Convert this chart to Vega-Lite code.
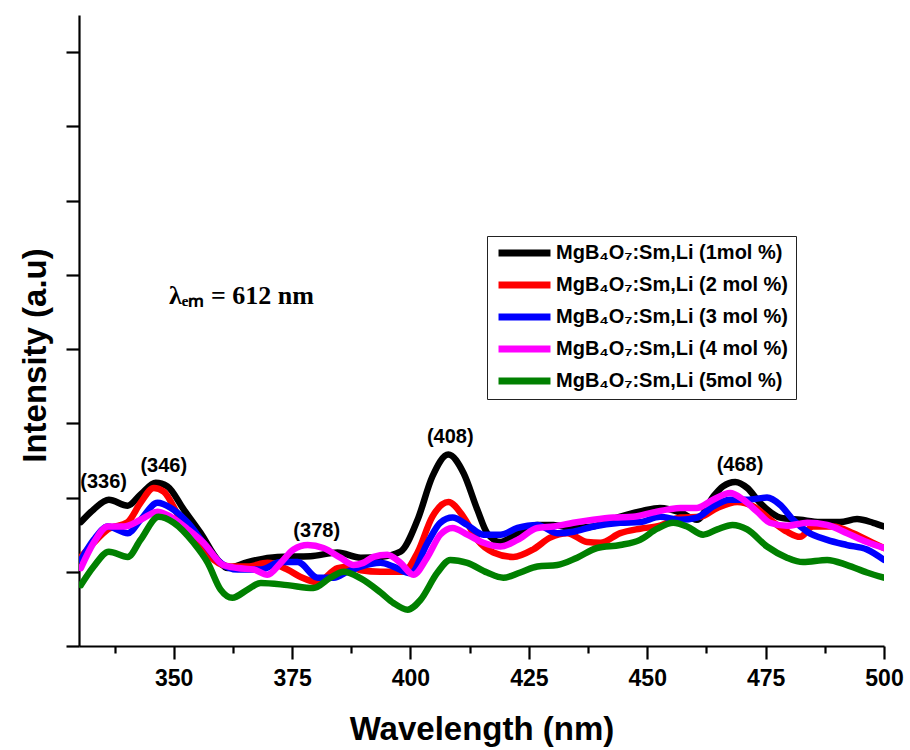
{
  "$schema": "https://vega.github.io/schema/vega-lite/v6.json",
  "width": 805,
  "height": 631,
  "autosize": {"type": "none"},
  "padding": {"left": 79, "top": 15, "right": 26, "bottom": 104},
  "background": "white",
  "config": {
    "view": {"stroke": null},
    "font": "Liberation Sans"
  },
  "datasets": {
    "spectra": [
      {"series": "MgB₄O₇:Sm,Li (1mol %)", "wl": 330.4, "I": 1.67},
      {"series": "MgB₄O₇:Sm,Li (1mol %)", "wl": 333.1, "I": 1.84},
      {"series": "MgB₄O₇:Sm,Li (1mol %)", "wl": 336.3, "I": 1.97},
      {"series": "MgB₄O₇:Sm,Li (1mol %)", "wl": 340.3, "I": 1.89},
      {"series": "MgB₄O₇:Sm,Li (1mol %)", "wl": 343.0, "I": 2.04},
      {"series": "MgB₄O₇:Sm,Li (1mol %)", "wl": 346.2, "I": 2.20},
      {"series": "MgB₄O₇:Sm,Li (1mol %)", "wl": 348.7, "I": 2.15},
      {"series": "MgB₄O₇:Sm,Li (1mol %)", "wl": 352.1, "I": 1.84},
      {"series": "MgB₄O₇:Sm,Li (1mol %)", "wl": 355.7, "I": 1.52},
      {"series": "MgB₄O₇:Sm,Li (1mol %)", "wl": 359.3, "I": 1.16},
      {"series": "MgB₄O₇:Sm,Li (1mol %)", "wl": 361.4, "I": 1.05},
      {"series": "MgB₄O₇:Sm,Li (1mol %)", "wl": 365.6, "I": 1.13},
      {"series": "MgB₄O₇:Sm,Li (1mol %)", "wl": 371.9, "I": 1.20},
      {"series": "MgB₄O₇:Sm,Li (1mol %)", "wl": 378.9, "I": 1.21},
      {"series": "MgB₄O₇:Sm,Li (1mol %)", "wl": 384.6, "I": 1.26},
      {"series": "MgB₄O₇:Sm,Li (1mol %)", "wl": 389.5, "I": 1.19},
      {"series": "MgB₄O₇:Sm,Li (1mol %)", "wl": 393.7, "I": 1.20},
      {"series": "MgB₄O₇:Sm,Li (1mol %)", "wl": 397.9, "I": 1.27},
      {"series": "MgB₄O₇:Sm,Li (1mol %)", "wl": 401.5, "I": 1.70},
      {"series": "MgB₄O₇:Sm,Li (1mol %)", "wl": 404.6, "I": 2.28},
      {"series": "MgB₄O₇:Sm,Li (1mol %)", "wl": 408.0, "I": 2.58},
      {"series": "MgB₄O₇:Sm,Li (1mol %)", "wl": 411.2, "I": 2.33},
      {"series": "MgB₄O₇:Sm,Li (1mol %)", "wl": 414.1, "I": 1.84},
      {"series": "MgB₄O₇:Sm,Li (1mol %)", "wl": 416.2, "I": 1.52},
      {"series": "MgB₄O₇:Sm,Li (1mol %)", "wl": 419.0, "I": 1.40},
      {"series": "MgB₄O₇:Sm,Li (1mol %)", "wl": 422.6, "I": 1.52},
      {"series": "MgB₄O₇:Sm,Li (1mol %)", "wl": 426.8, "I": 1.63},
      {"series": "MgB₄O₇:Sm,Li (1mol %)", "wl": 430.2, "I": 1.63},
      {"series": "MgB₄O₇:Sm,Li (1mol %)", "wl": 434.4, "I": 1.59},
      {"series": "MgB₄O₇:Sm,Li (1mol %)", "wl": 438.6, "I": 1.61},
      {"series": "MgB₄O₇:Sm,Li (1mol %)", "wl": 442.2, "I": 1.70},
      {"series": "MgB₄O₇:Sm,Li (1mol %)", "wl": 445.8, "I": 1.77},
      {"series": "MgB₄O₇:Sm,Li (1mol %)", "wl": 449.0, "I": 1.82},
      {"series": "MgB₄O₇:Sm,Li (1mol %)", "wl": 452.7, "I": 1.86},
      {"series": "MgB₄O₇:Sm,Li (1mol %)", "wl": 457.0, "I": 1.80},
      {"series": "MgB₄O₇:Sm,Li (1mol %)", "wl": 460.5, "I": 1.70},
      {"series": "MgB₄O₇:Sm,Li (1mol %)", "wl": 463.9, "I": 2.01},
      {"series": "MgB₄O₇:Sm,Li (1mol %)", "wl": 466.0, "I": 2.15},
      {"series": "MgB₄O₇:Sm,Li (1mol %)", "wl": 468.6, "I": 2.21},
      {"series": "MgB₄O₇:Sm,Li (1mol %)", "wl": 471.1, "I": 2.13},
      {"series": "MgB₄O₇:Sm,Li (1mol %)", "wl": 473.8, "I": 1.93},
      {"series": "MgB₄O₇:Sm,Li (1mol %)", "wl": 478.1, "I": 1.73},
      {"series": "MgB₄O₇:Sm,Li (1mol %)", "wl": 482.3, "I": 1.70},
      {"series": "MgB₄O₇:Sm,Li (1mol %)", "wl": 486.5, "I": 1.67},
      {"series": "MgB₄O₇:Sm,Li (1mol %)", "wl": 490.7, "I": 1.67},
      {"series": "MgB₄O₇:Sm,Li (1mol %)", "wl": 494.3, "I": 1.71},
      {"series": "MgB₄O₇:Sm,Li (1mol %)", "wl": 497.7, "I": 1.66},
      {"series": "MgB₄O₇:Sm,Li (1mol %)", "wl": 500.0, "I": 1.61},

      {"series": "MgB₄O₇:Sm,Li (2 mol %)", "wl": 330.4, "I": 1.20},
      {"series": "MgB₄O₇:Sm,Li (2 mol %)", "wl": 333.1, "I": 1.39},
      {"series": "MgB₄O₇:Sm,Li (2 mol %)", "wl": 336.1, "I": 1.57},
      {"series": "MgB₄O₇:Sm,Li (2 mol %)", "wl": 340.3, "I": 1.67},
      {"series": "MgB₄O₇:Sm,Li (2 mol %)", "wl": 343.0, "I": 1.93},
      {"series": "MgB₄O₇:Sm,Li (2 mol %)", "wl": 345.8, "I": 2.13},
      {"series": "MgB₄O₇:Sm,Li (2 mol %)", "wl": 347.9, "I": 2.08},
      {"series": "MgB₄O₇:Sm,Li (2 mol %)", "wl": 351.5, "I": 1.70},
      {"series": "MgB₄O₇:Sm,Li (2 mol %)", "wl": 355.0, "I": 1.43},
      {"series": "MgB₄O₇:Sm,Li (2 mol %)", "wl": 358.5, "I": 1.16},
      {"series": "MgB₄O₇:Sm,Li (2 mol %)", "wl": 362.0, "I": 1.07},
      {"series": "MgB₄O₇:Sm,Li (2 mol %)", "wl": 365.6, "I": 1.07},
      {"series": "MgB₄O₇:Sm,Li (2 mol %)", "wl": 369.8, "I": 1.12},
      {"series": "MgB₄O₇:Sm,Li (2 mol %)", "wl": 374.0, "I": 1.03},
      {"series": "MgB₄O₇:Sm,Li (2 mol %)", "wl": 376.8, "I": 0.93},
      {"series": "MgB₄O₇:Sm,Li (2 mol %)", "wl": 380.4, "I": 0.86},
      {"series": "MgB₄O₇:Sm,Li (2 mol %)", "wl": 384.6, "I": 1.05},
      {"series": "MgB₄O₇:Sm,Li (2 mol %)", "wl": 387.3, "I": 1.07},
      {"series": "MgB₄O₇:Sm,Li (2 mol %)", "wl": 389.5, "I": 1.02},
      {"series": "MgB₄O₇:Sm,Li (2 mol %)", "wl": 393.7, "I": 1.00},
      {"series": "MgB₄O₇:Sm,Li (2 mol %)", "wl": 398.5, "I": 1.00},
      {"series": "MgB₄O₇:Sm,Li (2 mol %)", "wl": 401.5, "I": 1.26},
      {"series": "MgB₄O₇:Sm,Li (2 mol %)", "wl": 404.6, "I": 1.74},
      {"series": "MgB₄O₇:Sm,Li (2 mol %)", "wl": 408.0, "I": 1.94},
      {"series": "MgB₄O₇:Sm,Li (2 mol %)", "wl": 411.2, "I": 1.74},
      {"series": "MgB₄O₇:Sm,Li (2 mol %)", "wl": 414.1, "I": 1.43},
      {"series": "MgB₄O₇:Sm,Li (2 mol %)", "wl": 417.5, "I": 1.26},
      {"series": "MgB₄O₇:Sm,Li (2 mol %)", "wl": 421.7, "I": 1.20},
      {"series": "MgB₄O₇:Sm,Li (2 mol %)", "wl": 425.9, "I": 1.30},
      {"series": "MgB₄O₇:Sm,Li (2 mol %)", "wl": 429.5, "I": 1.46},
      {"series": "MgB₄O₇:Sm,Li (2 mol %)", "wl": 433.1, "I": 1.52},
      {"series": "MgB₄O₇:Sm,Li (2 mol %)", "wl": 437.3, "I": 1.40},
      {"series": "MgB₄O₇:Sm,Li (2 mol %)", "wl": 440.1, "I": 1.39},
      {"series": "MgB₄O₇:Sm,Li (2 mol %)", "wl": 444.3, "I": 1.52},
      {"series": "MgB₄O₇:Sm,Li (2 mol %)", "wl": 448.5, "I": 1.58},
      {"series": "MgB₄O₇:Sm,Li (2 mol %)", "wl": 452.7, "I": 1.62},
      {"series": "MgB₄O₇:Sm,Li (2 mol %)", "wl": 457.0, "I": 1.73},
      {"series": "MgB₄O₇:Sm,Li (2 mol %)", "wl": 461.2, "I": 1.74},
      {"series": "MgB₄O₇:Sm,Li (2 mol %)", "wl": 464.8, "I": 1.86},
      {"series": "MgB₄O₇:Sm,Li (2 mol %)", "wl": 469.0, "I": 1.94},
      {"series": "MgB₄O₇:Sm,Li (2 mol %)", "wl": 472.4, "I": 1.88},
      {"series": "MgB₄O₇:Sm,Li (2 mol %)", "wl": 476.6, "I": 1.67},
      {"series": "MgB₄O₇:Sm,Li (2 mol %)", "wl": 479.5, "I": 1.54},
      {"series": "MgB₄O₇:Sm,Li (2 mol %)", "wl": 482.3, "I": 1.47},
      {"series": "MgB₄O₇:Sm,Li (2 mol %)", "wl": 485.0, "I": 1.61},
      {"series": "MgB₄O₇:Sm,Li (2 mol %)", "wl": 489.2, "I": 1.61},
      {"series": "MgB₄O₇:Sm,Li (2 mol %)", "wl": 493.5, "I": 1.52},
      {"series": "MgB₄O₇:Sm,Li (2 mol %)", "wl": 497.7, "I": 1.39},
      {"series": "MgB₄O₇:Sm,Li (2 mol %)", "wl": 500.0, "I": 1.32},

      {"series": "MgB₄O₇:Sm,Li (3 mol %)", "wl": 330.4, "I": 1.16},
      {"series": "MgB₄O₇:Sm,Li (3 mol %)", "wl": 333.1, "I": 1.43},
      {"series": "MgB₄O₇:Sm,Li (3 mol %)", "wl": 336.1, "I": 1.61},
      {"series": "MgB₄O₇:Sm,Li (3 mol %)", "wl": 340.3, "I": 1.52},
      {"series": "MgB₄O₇:Sm,Li (3 mol %)", "wl": 343.0, "I": 1.70},
      {"series": "MgB₄O₇:Sm,Li (3 mol %)", "wl": 346.6, "I": 1.93},
      {"series": "MgB₄O₇:Sm,Li (3 mol %)", "wl": 349.4, "I": 1.86},
      {"series": "MgB₄O₇:Sm,Li (3 mol %)", "wl": 353.0, "I": 1.66},
      {"series": "MgB₄O₇:Sm,Li (3 mol %)", "wl": 356.3, "I": 1.39},
      {"series": "MgB₄O₇:Sm,Li (3 mol %)", "wl": 359.9, "I": 1.12},
      {"series": "MgB₄O₇:Sm,Li (3 mol %)", "wl": 363.5, "I": 1.03},
      {"series": "MgB₄O₇:Sm,Li (3 mol %)", "wl": 368.4, "I": 1.03},
      {"series": "MgB₄O₇:Sm,Li (3 mol %)", "wl": 372.6, "I": 1.13},
      {"series": "MgB₄O₇:Sm,Li (3 mol %)", "wl": 376.2, "I": 1.13},
      {"series": "MgB₄O₇:Sm,Li (3 mol %)", "wl": 380.4, "I": 0.92},
      {"series": "MgB₄O₇:Sm,Li (3 mol %)", "wl": 383.8, "I": 0.92},
      {"series": "MgB₄O₇:Sm,Li (3 mol %)", "wl": 386.7, "I": 1.00},
      {"series": "MgB₄O₇:Sm,Li (3 mol %)", "wl": 389.5, "I": 1.07},
      {"series": "MgB₄O₇:Sm,Li (3 mol %)", "wl": 393.7, "I": 1.12},
      {"series": "MgB₄O₇:Sm,Li (3 mol %)", "wl": 396.4, "I": 1.07},
      {"series": "MgB₄O₇:Sm,Li (3 mol %)", "wl": 400.0, "I": 0.98},
      {"series": "MgB₄O₇:Sm,Li (3 mol %)", "wl": 403.6, "I": 1.39},
      {"series": "MgB₄O₇:Sm,Li (3 mol %)", "wl": 406.3, "I": 1.66},
      {"series": "MgB₄O₇:Sm,Li (3 mol %)", "wl": 408.9, "I": 1.73},
      {"series": "MgB₄O₇:Sm,Li (3 mol %)", "wl": 412.0, "I": 1.63},
      {"series": "MgB₄O₇:Sm,Li (3 mol %)", "wl": 415.4, "I": 1.50},
      {"series": "MgB₄O₇:Sm,Li (3 mol %)", "wl": 419.0, "I": 1.50},
      {"series": "MgB₄O₇:Sm,Li (3 mol %)", "wl": 422.6, "I": 1.59},
      {"series": "MgB₄O₇:Sm,Li (3 mol %)", "wl": 426.8, "I": 1.63},
      {"series": "MgB₄O₇:Sm,Li (3 mol %)", "wl": 431.0, "I": 1.52},
      {"series": "MgB₄O₇:Sm,Li (3 mol %)", "wl": 434.4, "I": 1.54},
      {"series": "MgB₄O₇:Sm,Li (3 mol %)", "wl": 438.6, "I": 1.61},
      {"series": "MgB₄O₇:Sm,Li (3 mol %)", "wl": 444.3, "I": 1.66},
      {"series": "MgB₄O₇:Sm,Li (3 mol %)", "wl": 448.5, "I": 1.67},
      {"series": "MgB₄O₇:Sm,Li (3 mol %)", "wl": 452.7, "I": 1.74},
      {"series": "MgB₄O₇:Sm,Li (3 mol %)", "wl": 457.0, "I": 1.70},
      {"series": "MgB₄O₇:Sm,Li (3 mol %)", "wl": 460.5, "I": 1.73},
      {"series": "MgB₄O₇:Sm,Li (3 mol %)", "wl": 463.9, "I": 1.88},
      {"series": "MgB₄O₇:Sm,Li (3 mol %)", "wl": 467.5, "I": 1.97},
      {"series": "MgB₄O₇:Sm,Li (3 mol %)", "wl": 471.1, "I": 1.97},
      {"series": "MgB₄O₇:Sm,Li (3 mol %)", "wl": 475.3, "I": 2.00},
      {"series": "MgB₄O₇:Sm,Li (3 mol %)", "wl": 478.1, "I": 1.90},
      {"series": "MgB₄O₇:Sm,Li (3 mol %)", "wl": 480.8, "I": 1.70},
      {"series": "MgB₄O₇:Sm,Li (3 mol %)", "wl": 483.8, "I": 1.54},
      {"series": "MgB₄O₇:Sm,Li (3 mol %)", "wl": 488.0, "I": 1.43},
      {"series": "MgB₄O₇:Sm,Li (3 mol %)", "wl": 492.2, "I": 1.36},
      {"series": "MgB₄O₇:Sm,Li (3 mol %)", "wl": 496.4, "I": 1.30},
      {"series": "MgB₄O₇:Sm,Li (3 mol %)", "wl": 500.0, "I": 1.16},

      {"series": "MgB₄O₇:Sm,Li (4 mol %)", "wl": 330.4, "I": 1.05},
      {"series": "MgB₄O₇:Sm,Li (4 mol %)", "wl": 333.1, "I": 1.39},
      {"series": "MgB₄O₇:Sm,Li (4 mol %)", "wl": 336.1, "I": 1.61},
      {"series": "MgB₄O₇:Sm,Li (4 mol %)", "wl": 339.5, "I": 1.61},
      {"series": "MgB₄O₇:Sm,Li (4 mol %)", "wl": 343.0, "I": 1.70},
      {"series": "MgB₄O₇:Sm,Li (4 mol %)", "wl": 346.6, "I": 1.81},
      {"series": "MgB₄O₇:Sm,Li (4 mol %)", "wl": 349.4, "I": 1.74},
      {"series": "MgB₄O₇:Sm,Li (4 mol %)", "wl": 353.0, "I": 1.57},
      {"series": "MgB₄O₇:Sm,Li (4 mol %)", "wl": 356.3, "I": 1.39},
      {"series": "MgB₄O₇:Sm,Li (4 mol %)", "wl": 360.5, "I": 1.09},
      {"series": "MgB₄O₇:Sm,Li (4 mol %)", "wl": 363.5, "I": 1.05},
      {"series": "MgB₄O₇:Sm,Li (4 mol %)", "wl": 366.9, "I": 1.03},
      {"series": "MgB₄O₇:Sm,Li (4 mol %)", "wl": 369.8, "I": 0.96},
      {"series": "MgB₄O₇:Sm,Li (4 mol %)", "wl": 372.6, "I": 1.12},
      {"series": "MgB₄O₇:Sm,Li (4 mol %)", "wl": 375.3, "I": 1.30},
      {"series": "MgB₄O₇:Sm,Li (4 mol %)", "wl": 378.3, "I": 1.36},
      {"series": "MgB₄O₇:Sm,Li (4 mol %)", "wl": 381.6, "I": 1.32},
      {"series": "MgB₄O₇:Sm,Li (4 mol %)", "wl": 385.2, "I": 1.19},
      {"series": "MgB₄O₇:Sm,Li (4 mol %)", "wl": 388.0, "I": 1.09},
      {"series": "MgB₄O₇:Sm,Li (4 mol %)", "wl": 390.0, "I": 1.12},
      {"series": "MgB₄O₇:Sm,Li (4 mol %)", "wl": 392.2, "I": 1.20},
      {"series": "MgB₄O₇:Sm,Li (4 mol %)", "wl": 395.1, "I": 1.23},
      {"series": "MgB₄O₇:Sm,Li (4 mol %)", "wl": 397.9, "I": 1.12},
      {"series": "MgB₄O₇:Sm,Li (4 mol %)", "wl": 400.6, "I": 0.96},
      {"series": "MgB₄O₇:Sm,Li (4 mol %)", "wl": 403.6, "I": 1.20},
      {"series": "MgB₄O₇:Sm,Li (4 mol %)", "wl": 406.3, "I": 1.50},
      {"series": "MgB₄O₇:Sm,Li (4 mol %)", "wl": 408.9, "I": 1.59},
      {"series": "MgB₄O₇:Sm,Li (4 mol %)", "wl": 412.0, "I": 1.50},
      {"series": "MgB₄O₇:Sm,Li (4 mol %)", "wl": 415.4, "I": 1.39},
      {"series": "MgB₄O₇:Sm,Li (4 mol %)", "wl": 419.0, "I": 1.34},
      {"series": "MgB₄O₇:Sm,Li (4 mol %)", "wl": 422.6, "I": 1.43},
      {"series": "MgB₄O₇:Sm,Li (4 mol %)", "wl": 426.8, "I": 1.59},
      {"series": "MgB₄O₇:Sm,Li (4 mol %)", "wl": 430.2, "I": 1.61},
      {"series": "MgB₄O₇:Sm,Li (4 mol %)", "wl": 434.4, "I": 1.66},
      {"series": "MgB₄O₇:Sm,Li (4 mol %)", "wl": 438.6, "I": 1.70},
      {"series": "MgB₄O₇:Sm,Li (4 mol %)", "wl": 442.9, "I": 1.73},
      {"series": "MgB₄O₇:Sm,Li (4 mol %)", "wl": 447.0, "I": 1.74},
      {"series": "MgB₄O₇:Sm,Li (4 mol %)", "wl": 451.3, "I": 1.80},
      {"series": "MgB₄O₇:Sm,Li (4 mol %)", "wl": 454.5, "I": 1.84},
      {"series": "MgB₄O₇:Sm,Li (4 mol %)", "wl": 457.0, "I": 1.86},
      {"series": "MgB₄O₇:Sm,Li (4 mol %)", "wl": 460.5, "I": 1.86},
      {"series": "MgB₄O₇:Sm,Li (4 mol %)", "wl": 463.9, "I": 1.97},
      {"series": "MgB₄O₇:Sm,Li (4 mol %)", "wl": 467.5, "I": 2.06},
      {"series": "MgB₄O₇:Sm,Li (4 mol %)", "wl": 470.3, "I": 1.97},
      {"series": "MgB₄O₇:Sm,Li (4 mol %)", "wl": 473.2, "I": 1.81},
      {"series": "MgB₄O₇:Sm,Li (4 mol %)", "wl": 475.9, "I": 1.66},
      {"series": "MgB₄O₇:Sm,Li (4 mol %)", "wl": 479.5, "I": 1.62},
      {"series": "MgB₄O₇:Sm,Li (4 mol %)", "wl": 483.8, "I": 1.66},
      {"series": "MgB₄O₇:Sm,Li (4 mol %)", "wl": 488.0, "I": 1.63},
      {"series": "MgB₄O₇:Sm,Li (4 mol %)", "wl": 492.2, "I": 1.52},
      {"series": "MgB₄O₇:Sm,Li (4 mol %)", "wl": 496.4, "I": 1.40},
      {"series": "MgB₄O₇:Sm,Li (4 mol %)", "wl": 500.0, "I": 1.32},

      {"series": "MgB₄O₇:Sm,Li (5mol %)", "wl": 330.4, "I": 0.82},
      {"series": "MgB₄O₇:Sm,Li (5mol %)", "wl": 333.1, "I": 1.07},
      {"series": "MgB₄O₇:Sm,Li (5mol %)", "wl": 336.3, "I": 1.27},
      {"series": "MgB₄O₇:Sm,Li (5mol %)", "wl": 340.3, "I": 1.20},
      {"series": "MgB₄O₇:Sm,Li (5mol %)", "wl": 343.0, "I": 1.43},
      {"series": "MgB₄O₇:Sm,Li (5mol %)", "wl": 346.8, "I": 1.74},
      {"series": "MgB₄O₇:Sm,Li (5mol %)", "wl": 350.0, "I": 1.66},
      {"series": "MgB₄O₇:Sm,Li (5mol %)", "wl": 354.2, "I": 1.39},
      {"series": "MgB₄O₇:Sm,Li (5mol %)", "wl": 357.2, "I": 1.12},
      {"series": "MgB₄O₇:Sm,Li (5mol %)", "wl": 359.9, "I": 0.76},
      {"series": "MgB₄O₇:Sm,Li (5mol %)", "wl": 362.4, "I": 0.65},
      {"series": "MgB₄O₇:Sm,Li (5mol %)", "wl": 365.6, "I": 0.76},
      {"series": "MgB₄O₇:Sm,Li (5mol %)", "wl": 368.4, "I": 0.85},
      {"series": "MgB₄O₇:Sm,Li (5mol %)", "wl": 374.0, "I": 0.82},
      {"series": "MgB₄O₇:Sm,Li (5mol %)", "wl": 379.5, "I": 0.78},
      {"series": "MgB₄O₇:Sm,Li (5mol %)", "wl": 383.1, "I": 0.92},
      {"series": "MgB₄O₇:Sm,Li (5mol %)", "wl": 385.9, "I": 1.00},
      {"series": "MgB₄O₇:Sm,Li (5mol %)", "wl": 389.5, "I": 0.91},
      {"series": "MgB₄O₇:Sm,Li (5mol %)", "wl": 393.7, "I": 0.72},
      {"series": "MgB₄O₇:Sm,Li (5mol %)", "wl": 396.4, "I": 0.58},
      {"series": "MgB₄O₇:Sm,Li (5mol %)", "wl": 399.4, "I": 0.49},
      {"series": "MgB₄O₇:Sm,Li (5mol %)", "wl": 402.1, "I": 0.62},
      {"series": "MgB₄O₇:Sm,Li (5mol %)", "wl": 405.7, "I": 0.99},
      {"series": "MgB₄O₇:Sm,Li (5mol %)", "wl": 408.4, "I": 1.16},
      {"series": "MgB₄O₇:Sm,Li (5mol %)", "wl": 412.0, "I": 1.12},
      {"series": "MgB₄O₇:Sm,Li (5mol %)", "wl": 416.2, "I": 0.99},
      {"series": "MgB₄O₇:Sm,Li (5mol %)", "wl": 419.6, "I": 0.92},
      {"series": "MgB₄O₇:Sm,Li (5mol %)", "wl": 423.2, "I": 0.99},
      {"series": "MgB₄O₇:Sm,Li (5mol %)", "wl": 426.8, "I": 1.07},
      {"series": "MgB₄O₇:Sm,Li (5mol %)", "wl": 431.0, "I": 1.09},
      {"series": "MgB₄O₇:Sm,Li (5mol %)", "wl": 435.2, "I": 1.19},
      {"series": "MgB₄O₇:Sm,Li (5mol %)", "wl": 439.4, "I": 1.32},
      {"series": "MgB₄O₇:Sm,Li (5mol %)", "wl": 444.3, "I": 1.36},
      {"series": "MgB₄O₇:Sm,Li (5mol %)", "wl": 448.5, "I": 1.43},
      {"series": "MgB₄O₇:Sm,Li (5mol %)", "wl": 452.1, "I": 1.58},
      {"series": "MgB₄O₇:Sm,Li (5mol %)", "wl": 455.5, "I": 1.66},
      {"series": "MgB₄O₇:Sm,Li (5mol %)", "wl": 458.4, "I": 1.61},
      {"series": "MgB₄O₇:Sm,Li (5mol %)", "wl": 461.8, "I": 1.50},
      {"series": "MgB₄O₇:Sm,Li (5mol %)", "wl": 464.8, "I": 1.57},
      {"series": "MgB₄O₇:Sm,Li (5mol %)", "wl": 468.0, "I": 1.63},
      {"series": "MgB₄O₇:Sm,Li (5mol %)", "wl": 471.1, "I": 1.57},
      {"series": "MgB₄O₇:Sm,Li (5mol %)", "wl": 475.3, "I": 1.34},
      {"series": "MgB₄O₇:Sm,Li (5mol %)", "wl": 479.5, "I": 1.19},
      {"series": "MgB₄O₇:Sm,Li (5mol %)", "wl": 482.9, "I": 1.13},
      {"series": "MgB₄O₇:Sm,Li (5mol %)", "wl": 488.0, "I": 1.16},
      {"series": "MgB₄O₇:Sm,Li (5mol %)", "wl": 492.2, "I": 1.09},
      {"series": "MgB₄O₇:Sm,Li (5mol %)", "wl": 496.4, "I": 0.99},
      {"series": "MgB₄O₇:Sm,Li (5mol %)", "wl": 500.0, "I": 0.92}
    ],
    "peaks": [
      {"label": "(336)", "wl": 335.2, "I": 2.21},
      {"label": "(346)", "wl": 347.9, "I": 2.43},
      {"label": "(378)", "wl": 380.2, "I": 1.55},
      {"label": "(408)", "wl": 408.4, "I": 2.82},
      {"label": "(468)", "wl": 469.6, "I": 2.44}
    ],
    "notes": [
      {"label": "λₑₘ = 612 nm", "wl": 349.0, "I": 4.71}
    ]
  },
  "layer": [
    {
      "data": {"name": "spectra"},
      "mark": {"type": "line", "interpolate": "monotone", "strokeWidth": 6.5, "strokeCap": "round", "strokeJoin": "round", "clip": true},
      "encoding": {
        "x": {
          "field": "wl", "type": "quantitative",
          "scale": {"domain": [330, 500], "nice": false, "zero": false},
          "axis": {
            "title": "Wavelength (nm)",
            "values": [337.5, 350, 362.5, 375, 387.5, 400, 412.5, 425, 437.5, 450, 462.5, 475, 487.5, 500],
            "labelExpr": "datum.value % 25 === 0 ? format(datum.value, 'd') : ''",
            "grid": false,
            "domainColor": "black", "domainWidth": 2.2,
            "tickColor": "black", "tickWidth": 2.2,
            "tickSize": {"condition": {"test": "datum.value % 25 === 0", "value": 13}, "value": 7},
            "labelFont": "Liberation Sans", "labelFontWeight": "bold", "labelFontSize": 23, "labelColor": "black",
            "labelPadding": 8, "labelFlush": false, "labelOverlap": false,
            "titleFont": "Liberation Sans", "titleFontWeight": "bold", "titleFontSize": 33, "titleColor": "black",
            "titlePadding": 23
          }
        },
        "y": {
          "field": "I", "type": "quantitative",
          "scale": {"domain": [0, 8.5], "nice": false, "zero": false},
          "axis": {
            "title": "Intensity (a.u)",
            "values": [0, 0.5, 1, 1.5, 2, 2.5, 3, 3.5, 4, 4.5, 5, 5.5, 6, 6.5, 7, 7.5, 8, 8.5],
            "labels": false,
            "grid": false,
            "domainColor": "black", "domainWidth": 2.2,
            "tickColor": "black", "tickWidth": 2.2,
            "tickSize": {"condition": {"test": "datum.value % 1 === 0", "value": 13}, "value": 6},
            "titleFont": "Liberation Sans", "titleFontWeight": "bold", "titleFontSize": 33, "titleColor": "black",
            "titleX": -44, "titleY": 340, "titleBaseline": "middle", "titleAngle": -90
          }
        },
        "color": {
          "field": "series", "type": "nominal",
          "scale": {
            "domain": ["MgB₄O₇:Sm,Li (1mol %)", "MgB₄O₇:Sm,Li (2 mol %)", "MgB₄O₇:Sm,Li (3 mol %)", "MgB₄O₇:Sm,Li (4 mol %)", "MgB₄O₇:Sm,Li (5mol %)"],
            "range": ["#000000", "#ff0000", "#0000ff", "#ff00ff", "#008000"]
          },
          "legend": {
            "title": null,
            "orient": "none", "legendX": 408, "legendY": 221,
            "direction": "vertical",
            "symbolType": "stroke", "symbolSize": 2700, "symbolStrokeWidth": 7,
            "clipHeight": 18, "rowPadding": 12,
            "labelFont": "Liberation Sans", "labelFontWeight": "bold", "labelFontSize": 20, "labelColor": "black",
            "labelLimit": 400, "labelOffset": 2,
            "strokeColor": "#222222", "fillColor": "white", "padding": 8
          }
        }
      }
    },
    {
      "data": {"name": "peaks"},
      "mark": {"type": "text", "font": "Liberation Sans", "fontWeight": "bold", "fontSize": 20, "align": "center", "baseline": "middle", "color": "black"},
      "encoding": {
        "x": {"field": "wl", "type": "quantitative"},
        "y": {"field": "I", "type": "quantitative"},
        "text": {"field": "label"}
      }
    },
    {
      "data": {"name": "notes"},
      "mark": {"type": "text", "font": "Liberation Serif", "fontWeight": "bold", "fontSize": 26, "align": "left", "baseline": "middle", "color": "black"},
      "encoding": {
        "x": {"field": "wl", "type": "quantitative"},
        "y": {"field": "I", "type": "quantitative"},
        "text": {"field": "label"}
      }
    }
  ]
}
